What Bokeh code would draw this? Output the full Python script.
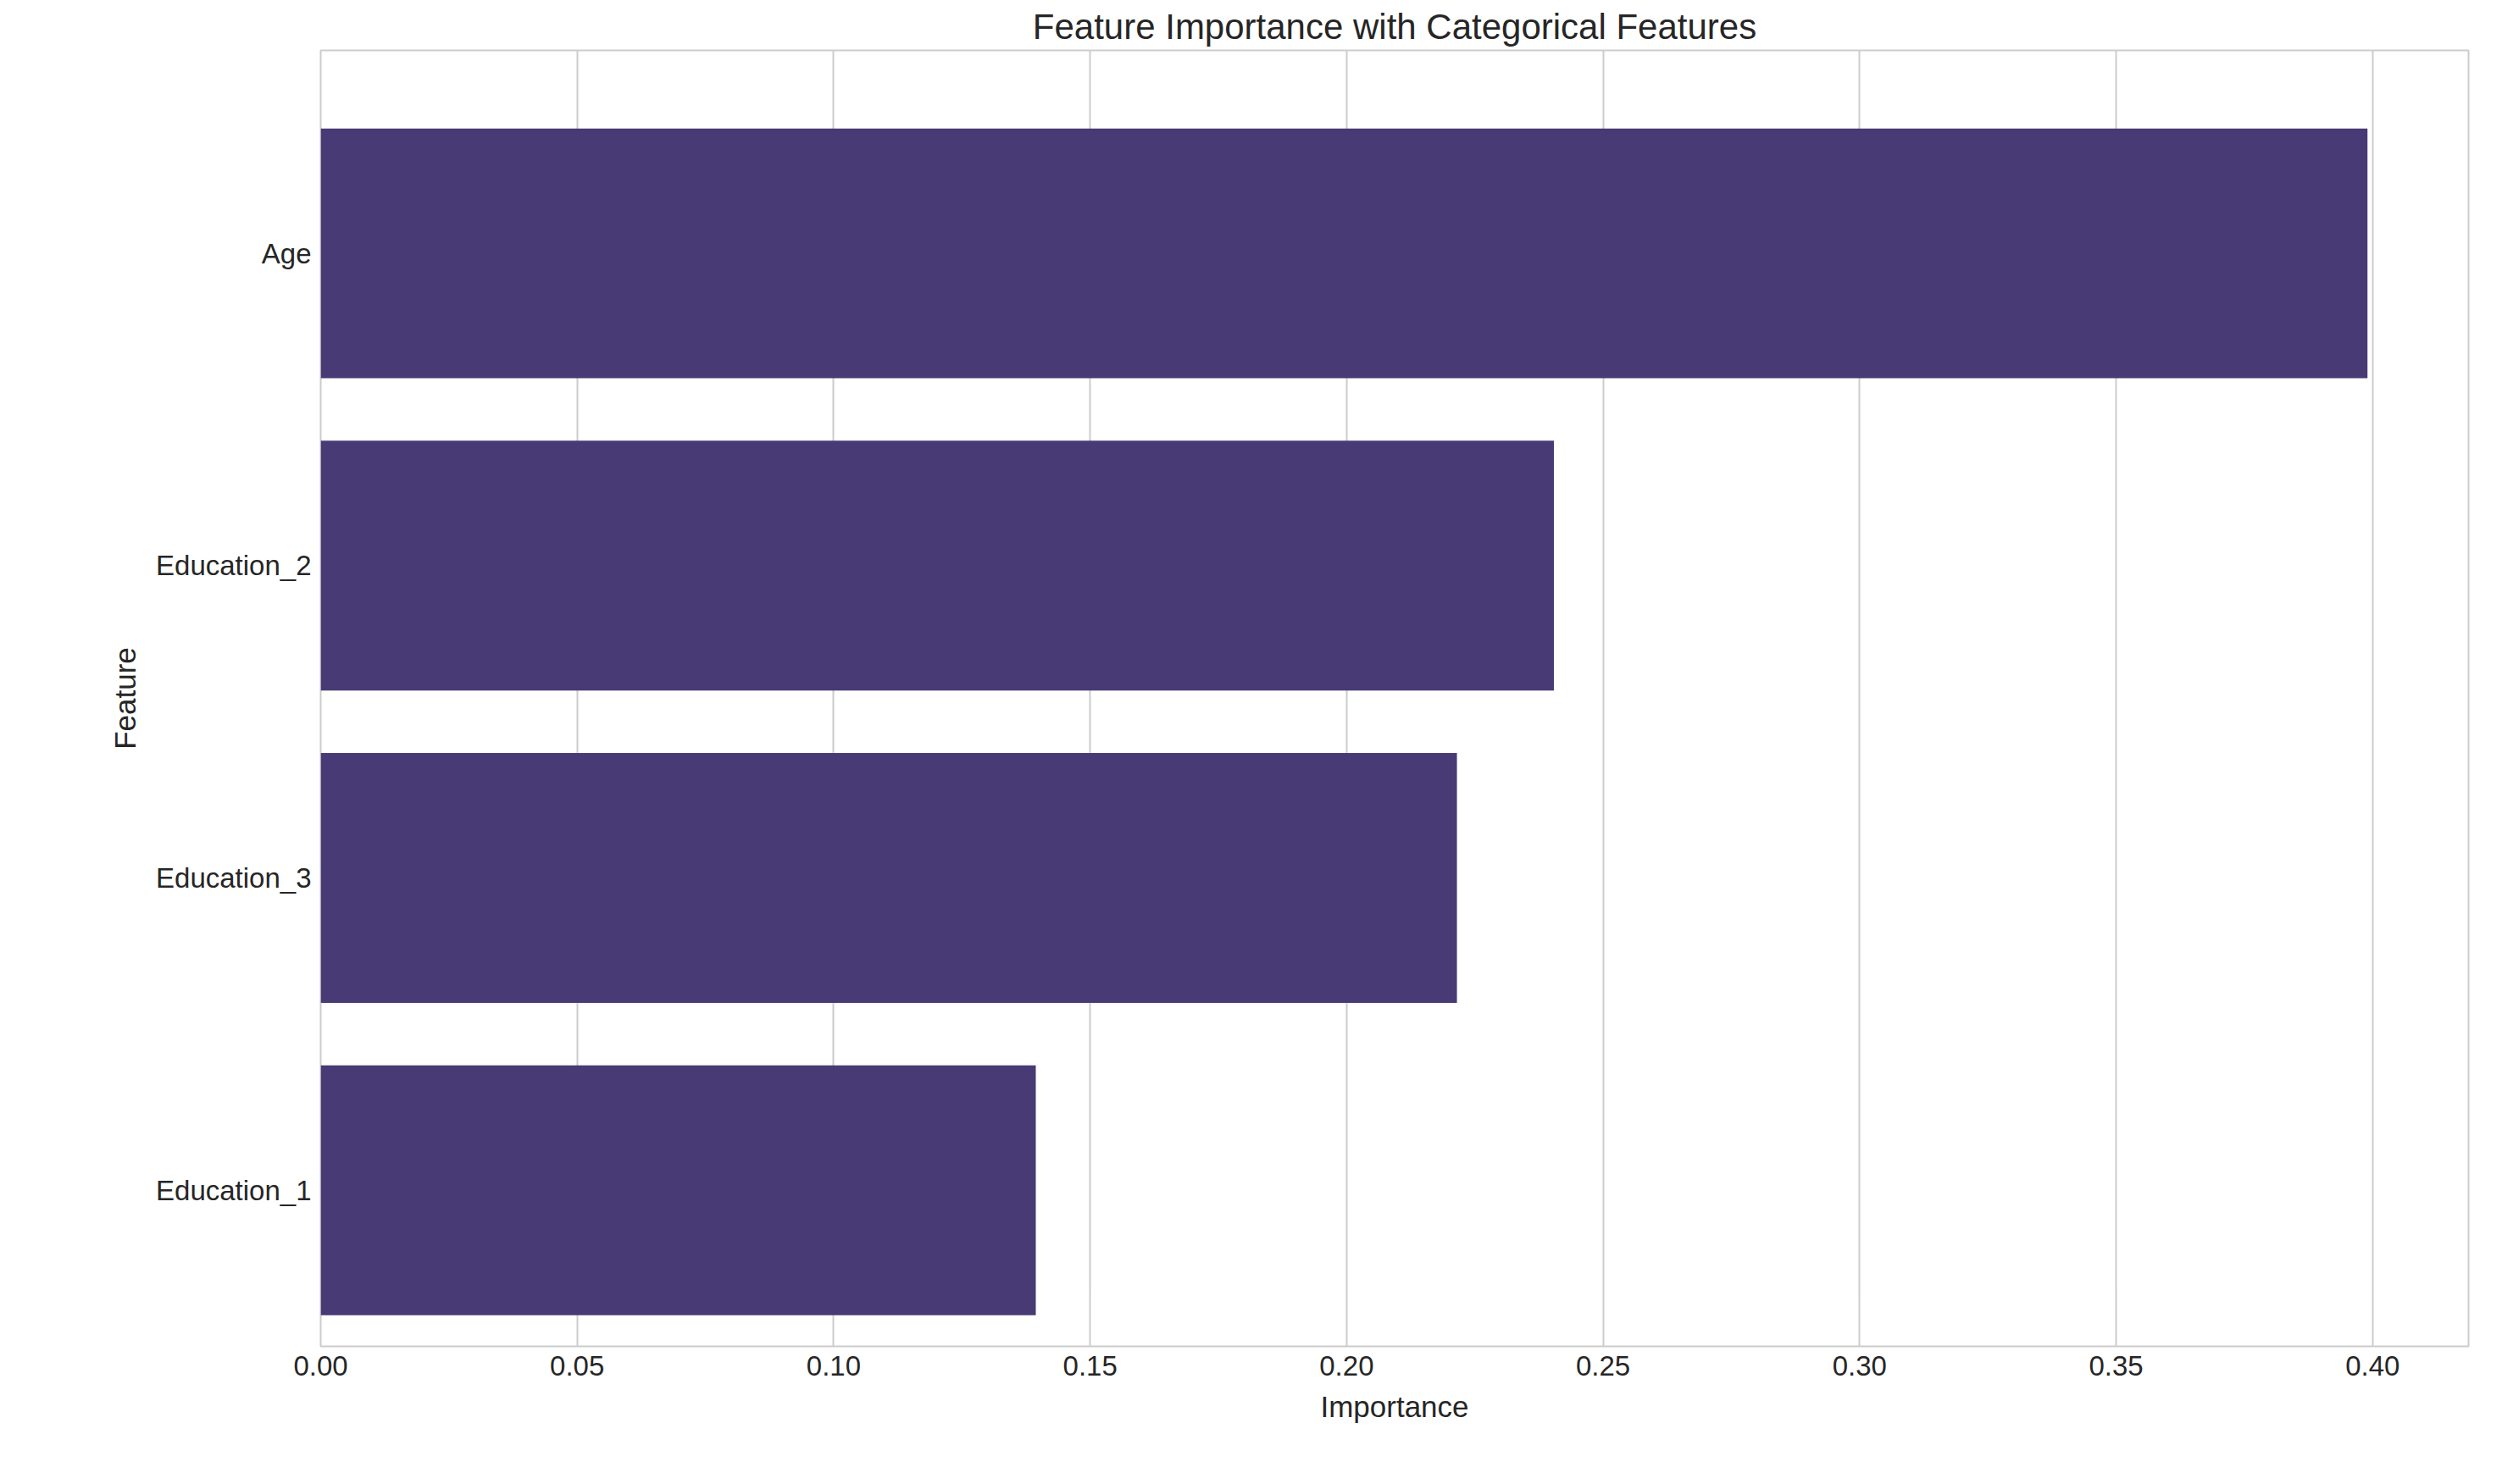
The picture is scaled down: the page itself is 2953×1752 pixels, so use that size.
from bokeh.plotting import figure
from bokeh.models import Range1d, FixedTicker
from bokeh.embed import file_html
from bokeh.resources import INLINE

features = ["Age", "Education_2", "Education_3", "Education_1"]
importance = [0.399, 0.2404, 0.2215, 0.1394]
xticks = [0.0, 0.05, 0.10, 0.15, 0.20, 0.25, 0.30, 0.35, 0.40]

ypos = list(range(len(features) - 1, -1, -1))

p = figure(width=2937, height=1736, output_backend="svg", toolbar_location=None,
           x_range=Range1d(0, 0.4187), y_range=Range1d(-0.5, 3.65),
           title="Feature Importance with Categorical Features",
           x_axis_label="Importance", y_axis_label="Feature")
p.min_border_left = 378
p.min_border_right = 24
p.min_border_bottom = 147
p.min_border_top = 0

p.hbar(y=ypos, right=importance, left=0, height=0.8, color="#483a74", line_color=None)

p.title.text_font = "Arial"
p.title.text_font_size = "42px"
p.title.text_font_style = "normal"
p.title.align = "center"
p.title.text_color = "#262626"

p.xaxis.ticker = FixedTicker(ticks=xticks)
p.xaxis.major_label_overrides = {t: f"{t:.2f}" for t in xticks}
p.yaxis.ticker = FixedTicker(ticks=ypos)
p.yaxis.major_label_overrides = {y: f for y, f in zip(ypos, features)}

for ax in (p.xaxis, p.yaxis):
    ax.axis_line_color = None
    ax.major_tick_line_color = None
    ax.minor_tick_line_color = None
    ax.major_label_text_font = "Arial"
    ax.major_label_text_font_size = "33px"
    ax.major_label_text_color = "#262626"
    ax.axis_label_text_font = "Arial"
    ax.axis_label_text_font_size = "35px"
    ax.axis_label_text_font_style = "normal"
    ax.axis_label_text_color = "#262626"
    ax.axis_label_standoff = 14

p.xgrid.grid_line_color = "#cccccc"
p.xgrid.grid_line_width = 2
p.ygrid.grid_line_color = None
p.outline_line_color = "#cccccc"
p.outline_line_width = 2
p.background_fill_color = "white"
p.border_fill_color = "white"

open("out.html", "w").write(file_html(p, INLINE))
